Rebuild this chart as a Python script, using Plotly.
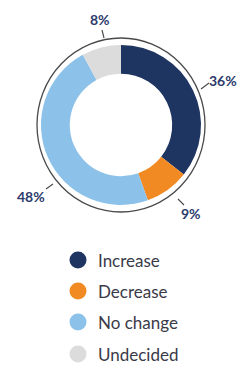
import plotly.graph_objects as go

W, H = 248, 380

categories = ["Increase", "Decrease", "No change", "Undecided"]
values = [36, 9, 48, 8]
colors = ["#1e3461", "#f28a24", "#8cc1e9", "#dcdcdc"]

# label placement (pixels) for each percentage and its leader line
label_pos = [(223, 80), (191, 213), (31, 197), (100, 20)]
leader = [((201, 89), (209, 83)), ((178, 199), (184, 205)),
          ((53, 184), (46, 189)), ((104, 38), (102, 30))]
legend_y = [260, 291, 322, 354]


def px(x):
    return x / W


def py(y):
    return 1 - y / H


fig = go.Figure()
fig.add_trace(go.Pie(
    labels=categories, values=values, sort=False, direction="clockwise",
    rotation=0, hole=0.64, textinfo="none", hoverinfo="label+percent",
    marker=dict(colors=colors, line=dict(width=0)),
    domain=dict(x=[px(41), px(201)], y=[py(205), py(45)]),
    showlegend=False,
))

shapes = []
annotations = []

# outer thin ring
shapes.append(dict(type="circle", xref="paper", yref="paper",
                   x0=px(37), x1=px(205), y0=py(212), y1=py(38),
                   line=dict(color="#4a4a4a", width=1.3)))

for v, (lx, ly), ((x0, y0), (x1, y1)) in zip(values, label_pos, leader):
    shapes.append(dict(type="line", xref="paper", yref="paper",
                       x0=px(x0), y0=py(y0), x1=px(x1), y1=py(y1),
                       line=dict(color="#4a4a4a", width=1.1)))
    annotations.append(dict(text=f"{v}%", x=px(lx), y=py(ly), xref="paper",
                            yref="paper", showarrow=False, xanchor="center",
                            yanchor="middle",
                            font=dict(family="Lato", size=14, color="#2c3a6c",
                                      weight="bold")))

r = 8.5
for cat, col, ly in zip(categories, colors, legend_y):
    shapes.append(dict(type="circle", xref="paper", yref="paper",
                       x0=px(78 - r), x1=px(78 + r), y0=py(ly + r), y1=py(ly - r),
                       fillcolor=col, line=dict(width=0)))
    annotations.append(dict(text=cat, x=px(96), y=py(ly), xref="paper",
                            yref="paper", showarrow=False, xanchor="left",
                            yanchor="middle",
                            font=dict(family="Lato", size=17, color="#3a3a48")))

fig.update_layout(width=W, height=H, margin=dict(l=0, r=0, t=0, b=0),
                  paper_bgcolor="white", plot_bgcolor="white",
                  shapes=shapes, annotations=annotations)

fig.write_html("out.html")
